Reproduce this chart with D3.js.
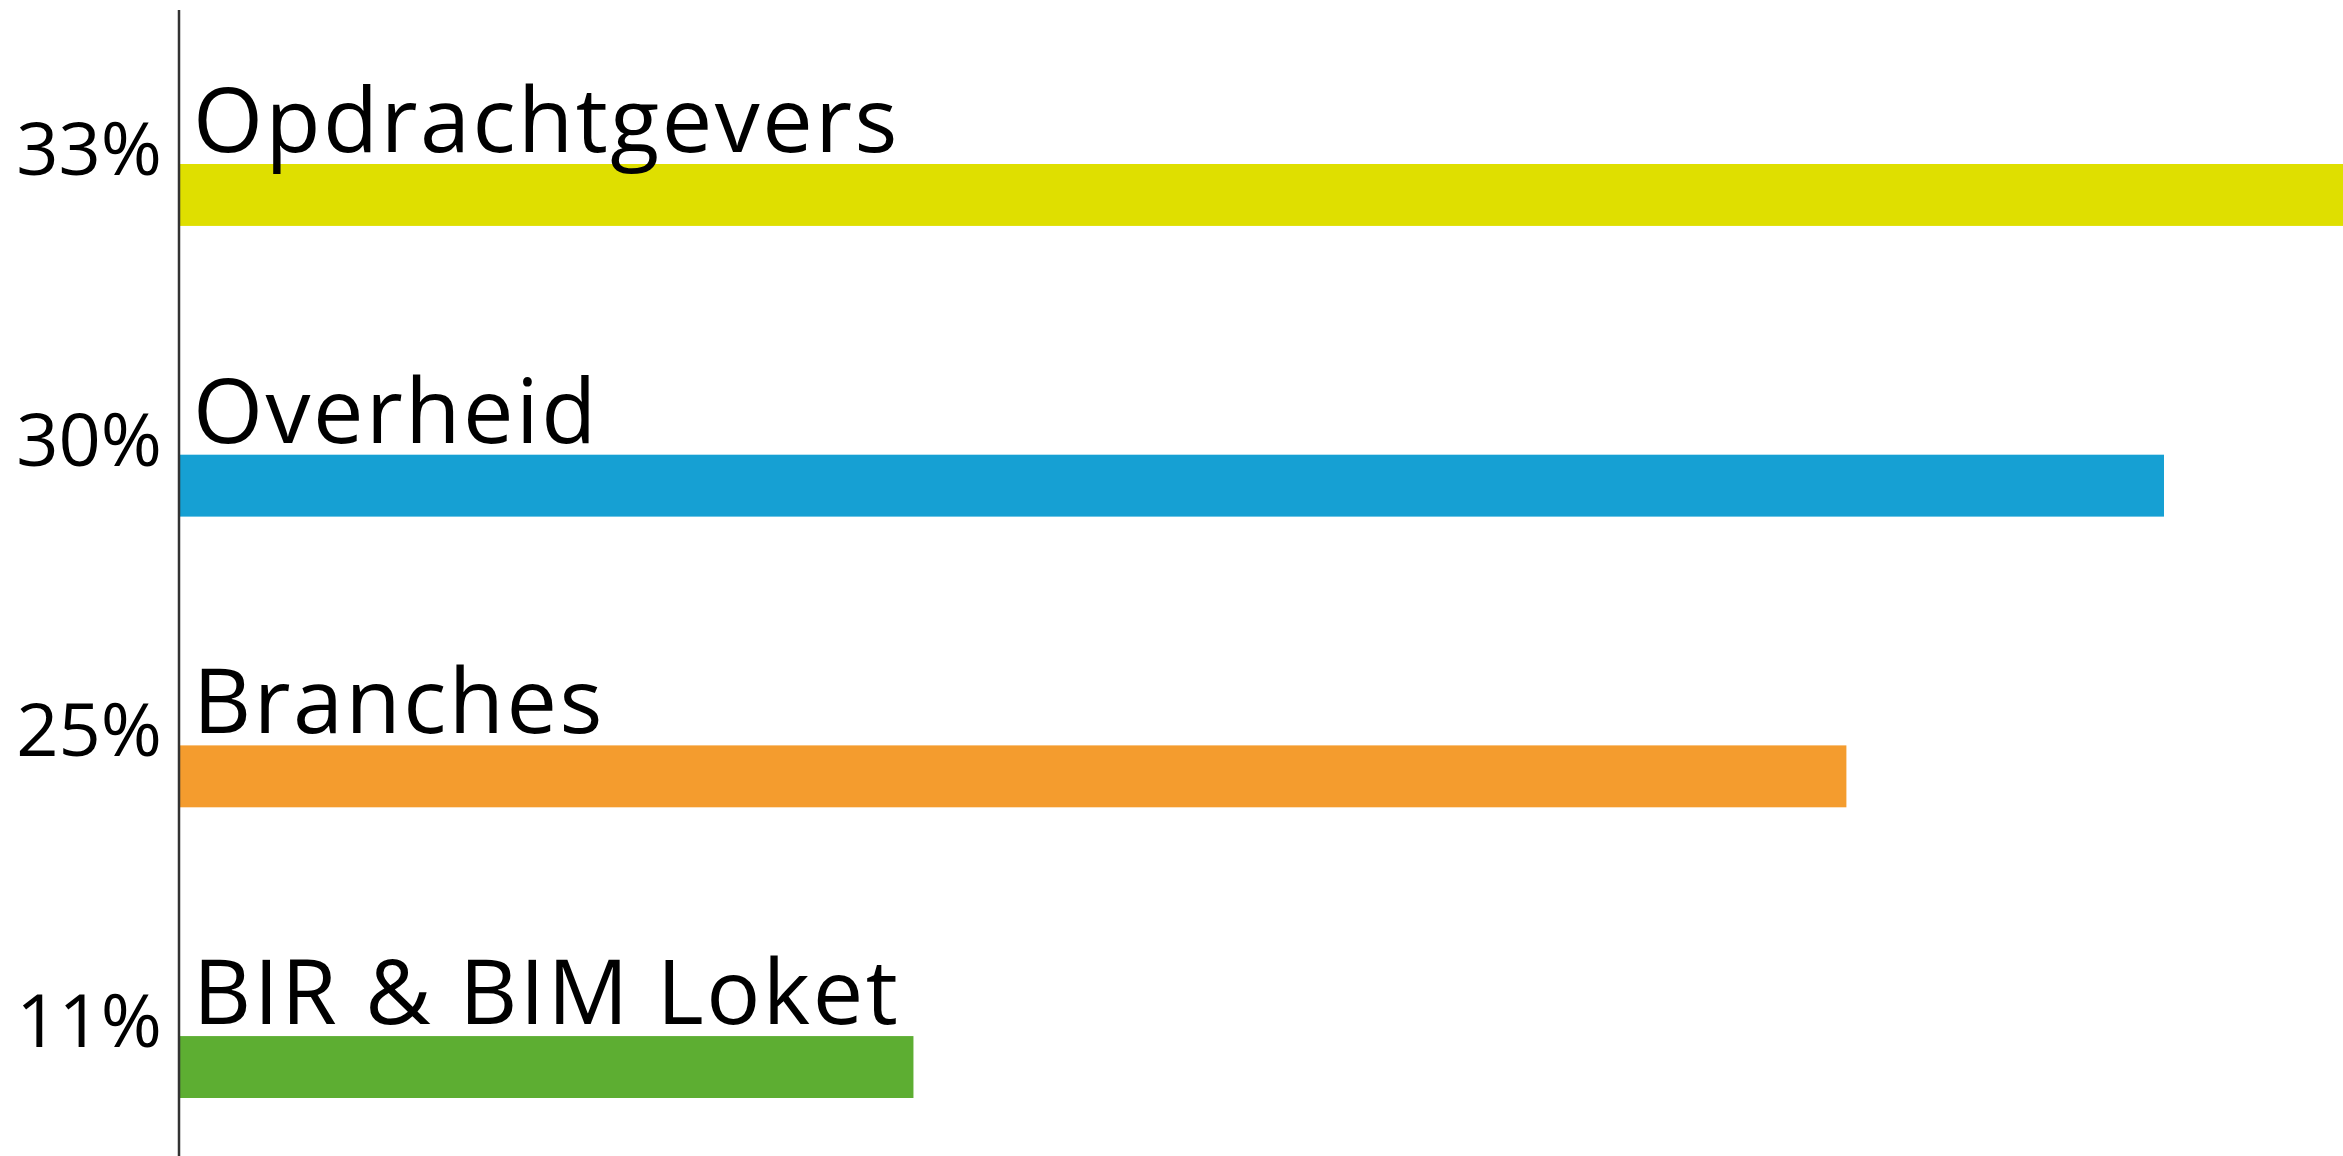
<!DOCTYPE html>
<html>
<head>
<meta charset="utf-8">
<script src="https://cdn.jsdelivr.net/npm/d3@7"></script>
<style>
  body { margin: 0; background: #fff; }
  svg text { font-family: "Open Sans", sans-serif; fill: #111; }
</style>
</head>
<body>
<div id="my_dataviz"></div>
<script>
// data
var categories = ["Opdrachtgevers", "Overheid", "Branches", "BIR & BIM Loket"]
var values = [33, 30, 25.2, 11.1]
var tickLabels = ["33%", "30%", "25%", "11%"]
var barColors = ["#dfdf00", "#16a0d3", "#f49c2e", "#5dae32"]

var width = 2343, height = 1156

var svg = d3.select("#my_dataviz")
  .append("svg")
  .attr("width", width)
  .attr("height", height)

// scales
var x = d3.scaleLinear()
  .domain([0, 30])
  .range([179, 2164])

var y = d3.scaleBand()
  .domain(categories)
  .range([164, 1098])
  .paddingInner(0.787)
  .paddingOuter(0)

// bars
svg.selectAll(".bar")
  .data(categories)
  .enter()
  .append("rect")
  .attr("class", "bar")
  .attr("x", x(0))
  .attr("y", function(d) { return y(d) })
  .attr("width", function(d, i) { return x(values[i]) - x(0) })
  .attr("height", y.bandwidth())
  .style("fill", function(d, i) { return barColors[i] })

// category labels above bars
svg.selectAll(".cat")
  .data(categories)
  .enter()
  .append("text")
  .attr("class", "cat")
  .attr("x", x(0) + 14)
  .attr("y", function(d) { return y(d) - 12 })
  .style("font-size", "90px")
  .style("letter-spacing", "2.5px")
  .style("fill", "#000")
  .text(function(d) { return d })

// left axis with percentage labels
var axis = svg.append("g")
  .attr("transform", "translate(" + x(0) + ",0)")
  .call(d3.axisLeft(y)
    .tickSize(0)
    .tickPadding(17)
    .tickFormat(function(d, i) { return tickLabels[i] }))

axis.select(".domain").remove()
axis.selectAll("text")
  .attr("y", 0)
  .attr("dy", 0)
  .attr("transform", "translate(0," + (11 - y.bandwidth() / 2) + ")")
  .style("font-size", "74px")
  .style("font-family", "'Open Sans', sans-serif")
  .style("fill", "#000")

// vertical axis line
svg.append("line")
  .attr("x1", x(0)).attr("x2", x(0))
  .attr("y1", 10).attr("y2", height)
  .style("stroke", "#333")
  .style("stroke-width", 2.5)
</script>
</body>
</html>
